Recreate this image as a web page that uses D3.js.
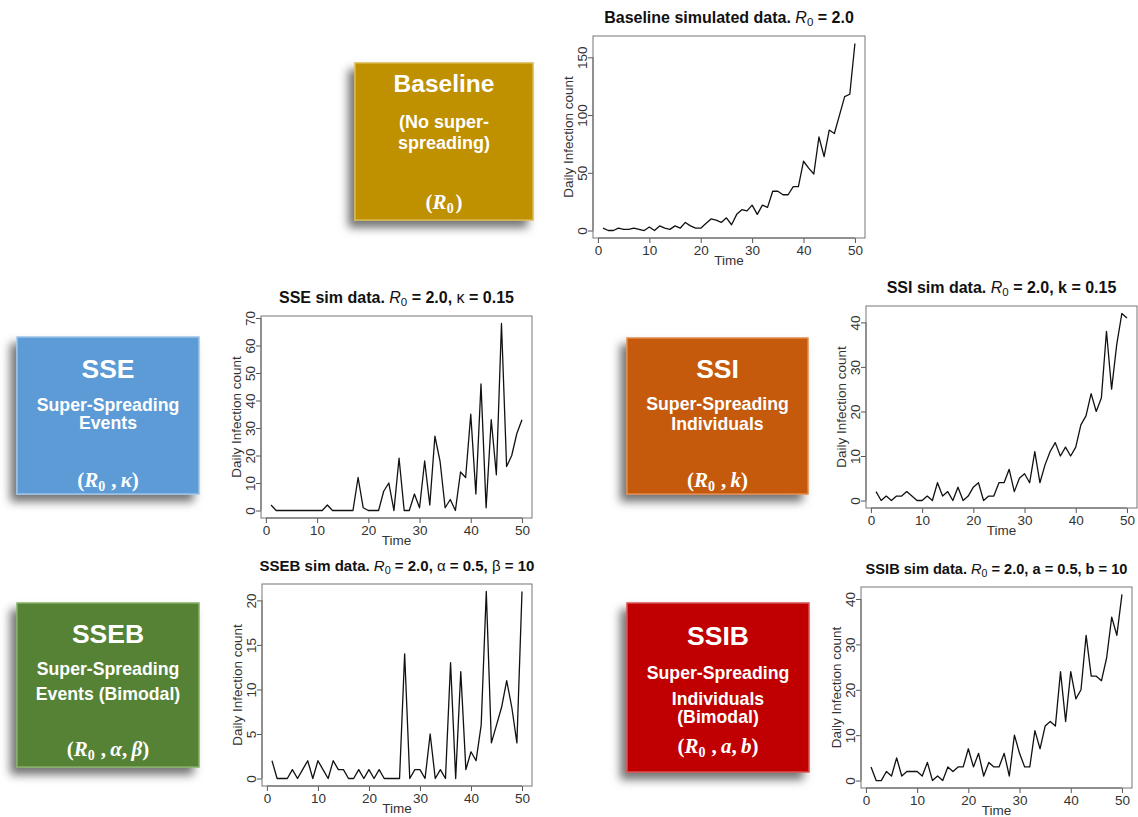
<!DOCTYPE html>
<html>
<head>
<meta charset="utf-8">
<script src="https://cdn.jsdelivr.net/npm/d3@7"></script>
<style>
  body { margin: 0; background: #fff; }
  svg { display: block; font-family: "Liberation Sans", Arial, sans-serif; }
</style>
</head>
<body>
<svg id="fig" width="1138" height="817"></svg>
<script>
// daily infection counts, days 1..50
const days = d3.range(1, 51);

const baselineCounts = [2, 0, 0, 2, 1, 1, 2, 1, 0, 3, 0, 4, 2, 1, 4, 2, 7, 4, 2, 2,
  6, 10, 9, 7, 11, 5, 14, 18, 17, 22, 14, 22, 20, 34, 34, 31, 31, 38, 38, 60,
  54, 49, 81, 64, 87, 84, 100, 116, 118, 162];
const sseCounts = [2, 0, 0, 0, 0, 0, 0, 0, 0, 0, 0, 2, 0, 0, 0, 0, 0, 12, 1, 0,
  0, 0, 7, 10, 0, 19, 0, 0, 6, 1, 18, 2, 27, 18, 1, 4, 0, 14, 12, 35,
  6, 46, 1, 33, 13, 68, 16, 20, 28, 33];
const ssiCounts = [2, 0, 1, 0, 1, 1, 2, 1, 0, 0, 1, 0, 4, 1, 2, 0, 3, 0, 1, 3,
  4, 0, 1, 1, 4, 4, 7, 2, 5, 6, 4, 11, 4, 8, 11, 13, 10, 12, 10, 12,
  17, 19, 24, 20, 23, 38, 25, 35, 42, 41];
const ssebCounts = [2, 0, 0, 0, 1, 0, 1, 2, 0, 2, 1, 0, 2, 1, 1, 0, 0, 1, 0, 1,
  0, 1, 0, 0, 0, 0, 14, 0, 1, 1, 0, 5, 0, 1, 0, 13, 0, 12, 1, 3,
  2, 6, 21, 4, 6, 8, 11, 8, 4, 21];
const ssibCounts = [3, 0, 0, 2, 1, 5, 1, 2, 2, 2, 1, 4, 0, 1, 0, 3, 2, 3, 3, 7,
  3, 6, 1, 4, 3, 3, 6, 1, 10, 6, 3, 3, 11, 7, 12, 13, 12, 24, 13, 24,
  18, 20, 32, 23, 23, 22, 27, 36, 32, 41];

const xTicks = [0, 10, 20, 30, 40, 50];
const baselineTicks = [0, 50, 100, 150];
const sseTicks = [0, 10, 20, 30, 40, 50, 60, 70];
const ssiTicks = [0, 10, 20, 30, 40];
const ssebTicks = [0, 5, 10, 15, 20];
const ssibTicks = [0, 10, 20, 30, 40];

const svg = d3.select('#fig');

// drop shadow for the model boxes
const defs = svg.append('defs');
const f = defs.append('filter').attr('id', 'shadow')
  .attr('x', '-20%').attr('y', '-20%').attr('width', '140%').attr('height', '140%');
f.append('feDropShadow').attr('dx', -6).attr('dy', 7).attr('stdDeviation', 5)
  .attr('flood-color', '#000').attr('flood-opacity', 0.55);

// ---- model boxes ----
const boxes = [
  { x: 355, y: 63, w: 178, h: 157, fill: '#BF9000', edge: '#D9B84A',
    lines: [['Baseline', 24.5, 92], ['(No super-', 18, 128], ['spreading)', 18, 149]],
    formula: [['R', '0']], fy: 209 },
  { x: 17, y: 337, w: 182, h: 157, fill: '#5B9BD5', edge: '#9DC3E6',
    lines: [['SSE', 26.5, 378], ['Super-Spreading', 17.7, 411], ['Events', 17.7, 429]],
    formula: [['R', '0'], ['κ']], fy: 487 },
  { x: 627, y: 338, w: 181, h: 156, fill: '#C55A11', edge: '#E08A4E',
    lines: [['SSI', 26.5, 378], ['Super-Spreading', 17.7, 410], ['Individuals', 17.7, 430]],
    formula: [['R', '0'], ['k']], fy: 487 },
  { x: 17, y: 603, w: 182, h: 164, fill: '#548235', edge: '#84AE66',
    lines: [['SSEB', 26.5, 643], ['Super-Spreading', 17.7, 675], ['Events (Bimodal)', 17.7, 700]],
    formula: [['R', '0'], ['α'], ['β']], fy: 756 },
  { x: 627, y: 603, w: 182, h: 169, fill: '#C00000', edge: '#D85050',
    lines: [['SSIB', 26.5, 645], ['Super-Spreading', 17.7, 679], ['Individuals', 17.7, 705], ['(Bimodal)', 17.7, 723]],
    formula: [['R', '0'], ['a'], ['b']], fy: 753 }
];

boxes.forEach(b => {
  const g = svg.append('g');
  g.append('rect')
    .attr('x', b.x).attr('y', b.y).attr('width', b.w).attr('height', b.h)
    .attr('fill', b.fill).attr('stroke', b.edge).attr('stroke-width', 1.5)
    .attr('filter', 'url(#shadow)');
  const cx = b.x + b.w / 2;
  b.lines.forEach(([t, size, y]) => {
    g.append('text').attr('x', cx).attr('y', y)
      .attr('text-anchor', 'middle').attr('fill', '#fff')
      .attr('font-weight', 'bold').attr('font-size', size).text(t);
  });
  // formula like (R0 , κ)
  const ft = g.append('text').attr('x', cx).attr('y', b.fy)
    .attr('text-anchor', 'middle').attr('fill', '#fff')
    .attr('font-family', '"Liberation Serif", "DejaVu Serif", serif')
    .attr('font-size', 21).attr('font-weight', 'bold');
  ft.append('tspan').text('(');
  b.formula.forEach((p, i) => {
    if (i === 1) ft.append('tspan').text('\u2009,\u2009');
    else if (i > 1) ft.append('tspan').text(',\u2009');
    ft.append('tspan').attr('font-style', 'italic').text(p[0]);
    if (p[1]) {
      ft.append('tspan').attr('font-size', 14).attr('dy', 4).text(p[1]);
      ft.append('tspan').attr('dy', -4).text('\u200a');
    }
  });
  ft.append('tspan').text(')');
});

// ---- simulated data panels ----
const panels = [
  { counts: baselineCounts, ticks: baselineTicks, left: 593, right: 865, top: 36, bottom: 238,
    titleSize: 16, title: ['Baseline simulated data. ', ' = 2.0'] },
  { counts: sseCounts, ticks: sseTicks, left: 261, right: 532, top: 316, bottom: 518,
    titleSize: 16, title: ['SSE sim data. ', ' = 2.0, ', 'κ', ' = 0.15'] },
  { counts: ssiCounts, ticks: ssiTicks, left: 866, right: 1137, top: 306, bottom: 508,
    titleSize: 16, title: ['SSI sim data. ', ' = 2.0, k = 0.15'] },
  { counts: ssebCounts, ticks: ssebTicks, left: 262, right: 532, top: 584, bottom: 786,
    titleSize: 15, title: ['SSEB sim data. ', ' = 2.0, ', 'α', ' = 0.5, ', 'β', ' = 10'] },
  { counts: ssibCounts, ticks: ssibTicks, left: 861, right: 1132, top: 587, bottom: 788,
    titleSize: 14.6, title: ['SSIB sim data. ', ' = 2.0, a = 0.5, b = 10'] }
];

panels.forEach(p => {
  const g = svg.append('g');
  // R-style 4% padding on both axes
  const xpad = (d3.max(days) - d3.min(days)) * 0.04;
  const x = d3.scaleLinear()
    .domain([d3.min(days) - xpad, d3.max(days) + xpad])
    .range([p.left, p.right]);
  const ymax = d3.max(p.counts);
  const y = d3.scaleLinear()
    .domain([-ymax * 0.04, ymax * 1.04])
    .range([p.bottom, p.top]);

  const xAxis = g.append('g')
    .attr('transform', `translate(0,${p.bottom})`)
    .call(d3.axisBottom(x).tickValues(xTicks).tickSize(5).tickSizeOuter(0).tickPadding(2));
  const yAxis = g.append('g')
    .attr('transform', `translate(${p.left},0)`)
    .call(d3.axisLeft(y).tickValues(p.ticks).tickSize(5).tickSizeOuter(0));

  [xAxis, yAxis].forEach(a => {
    a.select('.domain').remove();
    a.selectAll('line').attr('stroke', '#555');
    a.selectAll('text').attr('font-size', 13.5).attr('fill', '#333')
      .attr('font-family', '"Liberation Sans", Arial, sans-serif');
  });
  // axis lines between first and last tick
  xAxis.append('line').attr('x1', x(xTicks[0])).attr('x2', x(xTicks[xTicks.length - 1]))
    .attr('stroke', '#555');
  yAxis.append('line').attr('y1', y(p.ticks[0])).attr('y2', y(p.ticks[p.ticks.length - 1]))
    .attr('stroke', '#555');
  // rotated y tick labels (R default)
  yAxis.selectAll('.tick text')
    .attr('x', null).attr('dy', null)
    .attr('text-anchor', 'middle')
    .attr('transform', 'translate(-6,0) rotate(-90)');

  g.append('rect')
    .attr('x', p.left).attr('y', p.top)
    .attr('width', p.right - p.left).attr('height', p.bottom - p.top)
    .attr('fill', 'none').attr('stroke', '#777').attr('stroke-width', 1);

  g.append('path')
    .datum(days.map((d, i) => [d, p.counts[i]]))
    .attr('fill', 'none').attr('stroke', '#111').attr('stroke-width', 1.3)
    .attr('stroke-linejoin', 'round')
    .attr('d', d3.line().x(d => x(d[0])).y(d => y(d[1])));

  g.append('text')
    .attr('x', (p.left + p.right) / 2).attr('y', p.bottom + 27)
    .attr('text-anchor', 'middle').attr('font-size', 13.5).attr('fill', '#333')
    .text('Time');
  g.append('text')
    .attr('transform', `translate(${p.left - 20},${(p.top + p.bottom) / 2}) rotate(-90)`)
    .attr('text-anchor', 'middle').attr('font-size', 13.5).attr('fill', '#333')
    .text('Daily Infection count');

  // title with italic R0 and greek letters in regular weight
  const t = g.append('text')
    .attr('x', (p.left + p.right) / 2).attr('y', p.top - 13)
    .attr('text-anchor', 'middle').attr('font-size', p.titleSize).attr('font-weight', 'bold')
    .attr('fill', '#111');
  t.append('tspan').text(p.title[0]);
  t.append('tspan').attr('font-style', 'italic').attr('font-weight', 'normal').text('R');
  t.append('tspan').attr('font-weight', 'normal').attr('font-size', p.titleSize * 0.72).attr('dy', 3).text('0');
  t.append('tspan').attr('dy', -3).text(p.title[1]);
  p.title.slice(2).forEach(s => {
    const greek = /^[κα-ω]$/.test(s);
    t.append('tspan').attr('font-weight', greek ? 'normal' : 'bold').text(s);
  });
});
</script>
</body>
</html>
